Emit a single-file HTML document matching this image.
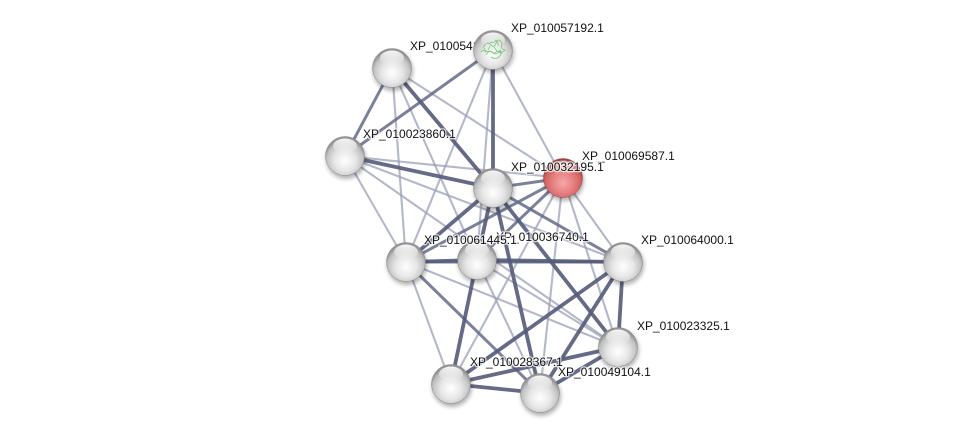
<!DOCTYPE html>
<html><head><meta charset="utf-8"><style>
html,body{margin:0;padding:0;background:#fff;}
svg{display:block;}
text{font-family:"Liberation Sans",sans-serif;font-size:12px;fill:#111;paint-order:stroke;stroke:#fff;stroke-width:2.5px;stroke-opacity:0.75;stroke-linejoin:round;}
</style></head><body>
<svg width="975" height="438" viewBox="0 0 975 438" xmlns="http://www.w3.org/2000/svg">
<defs>
<radialGradient id="gs" cx="50%" cy="62%" r="55%">
<stop offset="0" stop-color="#ffffff"/>
<stop offset="0.5" stop-color="#e6e6e6"/>
<stop offset="0.84" stop-color="#c2c2c2"/>
<stop offset="1" stop-color="#949494"/>
</radialGradient>
<radialGradient id="rs" cx="50%" cy="62%" r="55%">
<stop offset="0" stop-color="#f7a8a8"/>
<stop offset="0.5" stop-color="#e58080"/>
<stop offset="0.84" stop-color="#d06262"/>
<stop offset="1" stop-color="#a04545"/>
</radialGradient>
<linearGradient id="hl" x1="0" y1="0" x2="0" y2="1">
<stop offset="0" stop-color="#fff" stop-opacity="0.95"/>
<stop offset="1" stop-color="#fff" stop-opacity="0"/>
</linearGradient>
<filter id="sh" x="-50%" y="-50%" width="200%" height="200%">
<feGaussianBlur stdDeviation="2"/>
</filter>
<g id="hi"><ellipse cx="0" cy="-10" rx="12" ry="7.5" fill="url(#hl)"/></g>
</defs>
<rect width="975" height="438" fill="#fff"/>

<!-- light edges -->
<g stroke="#9aa0b8" stroke-width="2.1" stroke-opacity="0.75" fill="none" stroke-linecap="round">
<line x1="392" y1="68" x2="406" y2="262"/>
<line x1="392" y1="68" x2="477" y2="260"/>
<line x1="392" y1="68" x2="563" y2="178"/>
<line x1="493" y1="50" x2="406" y2="262"/>
<line x1="493" y1="50" x2="477" y2="260"/>
<line x1="493" y1="50" x2="563" y2="178"/>
<line x1="345" y1="156" x2="563" y2="178"/>
<line x1="345" y1="156" x2="406" y2="262"/>
<line x1="345" y1="156" x2="623" y2="262"/>
<line x1="345" y1="156" x2="618" y2="347"/>
<line x1="563" y1="178" x2="451" y2="384"/>
<line x1="563" y1="178" x2="540" y2="393"/>
<line x1="563" y1="178" x2="618" y2="347"/>
<line x1="563" y1="178" x2="623" y2="262"/>
<line x1="406" y1="262" x2="451" y2="384"/>
<line x1="406" y1="262" x2="618" y2="347"/>
<line x1="477" y1="260" x2="618" y2="347"/>
<line x1="477" y1="260" x2="540" y2="393"/>
</g>
<!-- medium edges -->
<g stroke="#646b88" stroke-width="3" stroke-opacity="0.85" fill="none" stroke-linecap="round">
<line x1="392" y1="68" x2="345" y2="156"/>
<line x1="493" y1="50" x2="345" y2="156"/>
<line x1="493" y1="188" x2="563" y2="178"/>
<line x1="406" y1="262" x2="540" y2="393"/>
<line x1="406" y1="262" x2="623" y2="262"/>
<line x1="563" y1="178" x2="406" y2="262"/>
<line x1="563" y1="178" x2="477" y2="260"/>
<line x1="493" y1="188" x2="623" y2="262"/>
</g>
<!-- thick edges -->
<g stroke="#545b7a" stroke-width="3.8" stroke-opacity="0.9" fill="none" stroke-linecap="round">
<line x1="392" y1="68" x2="493" y2="188"/>
<line x1="493" y1="50" x2="493" y2="188"/>
<line x1="345" y1="156" x2="493" y2="188"/>
<line x1="493" y1="188" x2="477" y2="260"/>
<line x1="493" y1="188" x2="406" y2="262"/>
<line x1="493" y1="188" x2="618" y2="347"/>
<line x1="493" y1="188" x2="540" y2="393"/>
<line x1="477" y1="260" x2="451" y2="384"/>
<line x1="623" y1="262" x2="451" y2="384"/>
<line x1="623" y1="262" x2="540" y2="393"/>
<line x1="623" y1="262" x2="618" y2="347"/>
<line x1="451" y1="384" x2="540" y2="393"/>
<line x1="451" y1="384" x2="618" y2="347"/>
<line x1="540" y1="393" x2="618" y2="347"/>
<line x1="406" y1="262" x2="477" y2="260"/>
<line x1="477" y1="260" x2="623" y2="262"/>
</g>

<!-- nodes -->
<g>
<!-- A -->
<circle cx="393" cy="71" r="20" fill="#000" opacity="0.3" filter="url(#sh)"/>
<circle cx="392" cy="68" r="19.5" fill="url(#gs)" stroke="#8a8a8a" stroke-width="0.5"/>
<use href="#hi" x="392" y="68"/>
<text x="410" y="50">XP_010054185.1</text>
<!-- B -->
<circle cx="494" cy="53" r="20" fill="#000" opacity="0.3" filter="url(#sh)"/>
<circle cx="493" cy="50" r="19.5" fill="url(#gs)" stroke="#8a8a8a" stroke-width="0.5"/>
<use href="#hi" x="493" y="50"/>
<g stroke="#5cc45c" stroke-width="0.8" fill="none" opacity="0.85">
<path d="M483 48 q4 -8 8 -3 q3 4 6 -4 q3 -3 5 3 q-2 5 3 6 q-4 4 -8 1 q-3 4 -7 0 q-4 2 -6 -3"/>
<path d="M486 55 q3 -6 7 -2 q4 3 7 -3 q2 4 -1 7 q-4 3 -8 0"/>
<path d="M490 42 q4 2 6 -2 q3 3 2 6"/>
<path d="M481 52 q2 -3 5 0 M498 52 q3 -2 4 2 M494 47 l3 4 M488 50 l2 -4"/>
</g>
<!-- C -->
<circle cx="346" cy="159" r="20" fill="#000" opacity="0.3" filter="url(#sh)"/>
<circle cx="345" cy="156" r="19.5" fill="url(#gs)" stroke="#8a8a8a" stroke-width="0.5"/>
<use href="#hi" x="345" y="156"/>
<!-- E -->
<circle cx="564" cy="181" r="20" fill="#000" opacity="0.3" filter="url(#sh)"/>
<circle cx="563" cy="178" r="19.5" fill="url(#rs)" stroke="#9a4444" stroke-width="0.5"/>
<use href="#hi" x="563" y="178" opacity="0.55"/>
<!-- D -->
<circle cx="494" cy="191" r="20" fill="#000" opacity="0.3" filter="url(#sh)"/>
<circle cx="493" cy="188" r="19.5" fill="url(#gs)" stroke="#8a8a8a" stroke-width="0.5"/>
<use href="#hi" x="493" y="188"/>
<!-- F -->
<circle cx="407" cy="265" r="20" fill="#000" opacity="0.3" filter="url(#sh)"/>
<circle cx="406" cy="262" r="19.5" fill="url(#gs)" stroke="#8a8a8a" stroke-width="0.5"/>
<use href="#hi" x="406" y="262"/>
<!-- G -->
<circle cx="478" cy="263" r="20" fill="#000" opacity="0.3" filter="url(#sh)"/>
<circle cx="477" cy="260" r="19.5" fill="url(#gs)" stroke="#8a8a8a" stroke-width="0.5"/>
<use href="#hi" x="477" y="260"/>
<!-- H -->
<circle cx="624" cy="265" r="20" fill="#000" opacity="0.3" filter="url(#sh)"/>
<circle cx="623" cy="262" r="19.5" fill="url(#gs)" stroke="#8a8a8a" stroke-width="0.5"/>
<use href="#hi" x="623" y="262"/>
<!-- I -->
<circle cx="619" cy="350" r="20" fill="#000" opacity="0.3" filter="url(#sh)"/>
<circle cx="618" cy="347" r="19.5" fill="url(#gs)" stroke="#8a8a8a" stroke-width="0.5"/>
<use href="#hi" x="618" y="347"/>
<!-- J -->
<circle cx="452" cy="387" r="20" fill="#000" opacity="0.3" filter="url(#sh)"/>
<circle cx="451" cy="384" r="19.5" fill="url(#gs)" stroke="#8a8a8a" stroke-width="0.5"/>
<use href="#hi" x="451" y="384"/>
<!-- K -->
<circle cx="541" cy="396" r="20" fill="#000" opacity="0.3" filter="url(#sh)"/>
<circle cx="540" cy="393" r="19.5" fill="url(#gs)" stroke="#8a8a8a" stroke-width="0.5"/>
<use href="#hi" x="540" y="393"/>
</g>

<!-- labels -->
<text x="511" y="32">XP_010057192.1</text>
<text x="363" y="138">XP_010023860.1</text>
<text x="582" y="160">XP_010069587.1</text>
<text x="511" y="171">XP_010032195.1</text>
<text x="496" y="241">XP_010036740.1</text>
<text x="424" y="244">XP_010061445.1</text>
<text x="641" y="244">XP_010064000.1</text>
<text x="637" y="330">XP_010023325.1</text>
<text x="470" y="366">XP_010028367.1</text>
<text x="558" y="376">XP_010049104.1</text>
</svg>
</body></html>
